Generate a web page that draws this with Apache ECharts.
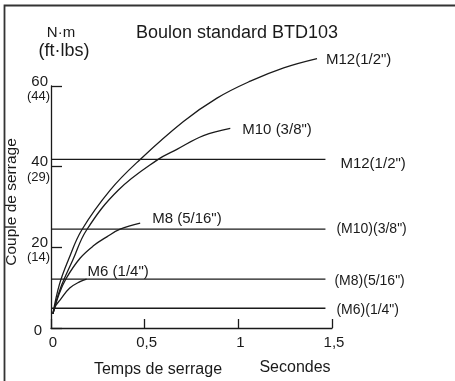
<!DOCTYPE html>
<html>
<head>
<meta charset="utf-8">
<script src="https://cdn.jsdelivr.net/npm/echarts@6/dist/echarts.min.js"></script>
<style>
  html, body { margin: 0; padding: 0; background: #fff; }
  #chart { width: 455px; height: 381px; }
</style>
</head>
<body>
<div id="chart"></div>
<script>
// temps de serrage (s) / couple (N·m)
const m12Time = [0.01, 0.045, 0.093, 0.164, 0.316, 0.476, 0.707, 0.886, 1.064, 1.242, 1.42];
const m12Torque = [3.5, 10.8, 16.9, 24.3, 34.2, 41.8, 51.2, 57.0, 61.2, 64.5, 66.8];
const m10Time = [0.01, 0.05, 0.117, 0.19, 0.36, 0.572, 0.672, 0.814, 0.957];
const m10Torque = [3.5, 9.8, 16.9, 24.3, 34.2, 41.8, 44.3, 47.7, 49.5];
const m8Time = [0.01, 0.04, 0.08, 0.155, 0.23, 0.298, 0.369, 0.476];
const m8Torque = [3.5, 8.0, 12.2, 17.3, 20.5, 22.6, 24.5, 26.0];
const m6Time = [0.01, 0.025, 0.048, 0.1, 0.155, 0.19];
const m6Torque = [3.5, 5.5, 6.9, 9.9, 11.5, 12.1];

// couples maxi (lignes horizontales)
const limitValues = [41.8, 24.5, 12.1, 4.9];
const limitEnd = 1.465;
const limitNames = ['M12(1/2")', '(M10)(3/8")', '(M8)(5/16")', '(M6)(1/4")'];

const curveNames = ['M12(1/2")', 'M10 (3/8")', 'M8 (5/16")', 'M6 (1/4")'];

const yTicks = [0, 20, 40, 60];
const yTicksFtLbs = ['', '(14)', '(29)', '(44)'];
const xTicks = ['0', '0,5', '1', '1,5'];

const FONT = 'Liberation Sans, Arial, sans-serif';
const INK = '#1a1a1a';

function zip(a, b) {
  return a.map((v, i) => [v, b[i]]);
}

const chart = echarts.init(document.getElementById('chart'));

const curves = [
  { data: zip(m12Time, m12Torque), dist: 9, off: [0, 1] },
  { data: zip(m10Time, m10Torque), dist: 12, off: [0, 2] },
  { data: zip(m8Time, m8Torque), dist: 12, off: [0, -4] },
  { data: zip(m6Time, m6Torque), dist: 1, off: [0, -7] },
];
const limitDist = [15, 11, 9, 11];
const limitOff = [4, 0, 2, 2];

const series = [];
curves.forEach((c, i) => {
  series.push({
    type: 'line',
    data: c.data,
    smooth: 0.4,
    clip: false,
    symbol: 'none',
    lineStyle: { color: INK, width: 1.3 },
    endLabel: {
      show: true,
      formatter: curveNames[i],
      distance: c.dist,
      offset: c.off,
      color: INK,
      fontSize: 15,
      fontFamily: FONT,
    },
  });
});
limitValues.forEach((v, i) => {
  series.push({
    type: 'line',
    data: [[0, v], [limitEnd, v]],
    symbol: 'none',
    clip: false,
    lineStyle: { color: INK, width: 1.3 },
    endLabel: {
      show: true,
      formatter: limitNames[i],
      distance: limitDist[i],
      offset: [0, limitOff[i]],
      color: INK,
      fontSize: i === 0 ? 15 : 14,
      fontFamily: FONT,
    },
  });
});

const option = {
  animation: false,
  grid: { left: 51, right: 123, top: 86, bottom: 53 },
  xAxis: {
    type: 'value',
    min: 0,
    max: 1.5,
    interval: 0.5,
    axisLine: { show: true, lineStyle: { color: INK, width: 1.3 } },
    axisTick: { show: true, inside: true, length: 9, lineStyle: { color: INK, width: 1.3 } },
    splitLine: { show: false },
    axisLabel: {
      margin: 7,
      color: INK,
      fontSize: 15,
      fontFamily: FONT,
      padding: [0, 0, 0, 4],
      formatter: (val) => xTicks[Math.round(val / 0.5)],
    },
  },
  yAxis: {
    type: 'value',
    min: 0,
    max: 60,
    interval: 20,
    axisLine: { show: true, lineStyle: { color: INK, width: 1.3 } },
    axisTick: { show: true, inside: true, length: 11, lineStyle: { color: INK, width: 1.3 } },
    splitLine: { show: false },
    axisLabel: {
      margin: 1,
      color: INK,
      fontFamily: FONT,
      padding: [6, 0, 0, 0],
      formatter: (val) => {
        const i = yTicks.indexOf(val);
        if (!yTicksFtLbs[i]) {
          return '{z|' + val + '}';
        }
        return '{a|' + val + '}\n{b|' + yTicksFtLbs[i] + '}';
      },
      rich: {
        a: { fontSize: 15, lineHeight: 15, color: INK, fontFamily: FONT, align: 'right', padding: [0, 2, 0, 0] },
        b: { fontSize: 13, lineHeight: 15, color: INK, fontFamily: FONT, align: 'right' },
        z: { fontSize: 15, lineHeight: 15, color: INK, fontFamily: FONT, padding: [0, 8, 0, 0] },
      },
    },
  },
  series: series,
  graphic: [
    {
      // cadre (haut + gauche)
      type: 'polyline',
      shape: { points: [[4.5, 381], [4.5, 5.5], [455, 5.5]] },
      style: { stroke: '#333', lineWidth: 1.8, fill: null },
      silent: true,
    },
    {
      type: 'text',
      x: 237, y: 33,
      style: { text: 'Boulon standard BTD103', font: '18px ' + FONT, fill: INK, align: 'center', verticalAlign: 'middle' },
    },
    {
      type: 'text',
      x: 61, y: 33,
      style: { text: 'N·m', font: '15px ' + FONT, fill: INK, align: 'center', verticalAlign: 'middle' },
    },
    {
      type: 'text',
      x: 64, y: 51,
      style: { text: '(ft·lbs)', font: '18px ' + FONT, fill: INK, align: 'center', verticalAlign: 'middle' },
    },
    {
      type: 'text',
      x: 12, y: 202,
      rotation: Math.PI / 2,
      style: { text: 'Couple de serrage', font: '15.5px ' + FONT, fill: INK, align: 'center', verticalAlign: 'middle' },
    },
    {
      type: 'text',
      x: 158, y: 370,
      style: { text: 'Temps de serrage', font: '16px ' + FONT, fill: INK, align: 'center', verticalAlign: 'middle' },
    },
    {
      type: 'text',
      x: 295, y: 368,
      style: { text: 'Secondes', font: '16px ' + FONT, fill: INK, align: 'center', verticalAlign: 'middle' },
    },
  ],
};

chart.setOption(option);
</script>
</body>
</html>
